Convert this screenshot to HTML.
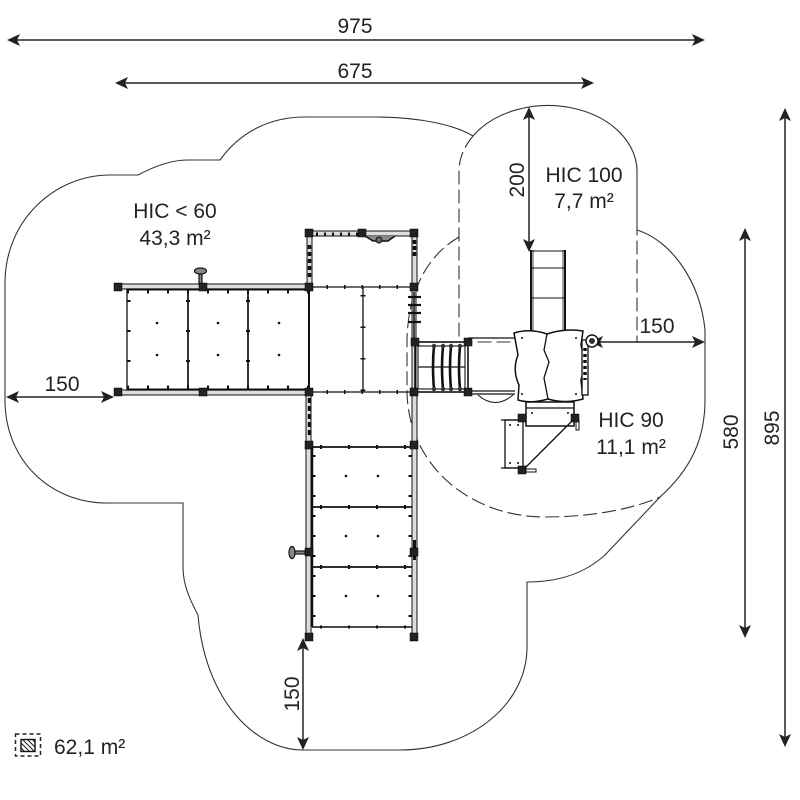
<!DOCTYPE html>
<html>
<head>
<meta charset="utf-8">
<style>
html,body{margin:0;padding:0;background:#fff;}
svg{display:block;}
text{font-family:"Liberation Sans",sans-serif;font-size:21px;fill:#222;}
</style>
</head>
<body>
<svg width="800" height="800" viewBox="0 0 800 800" xmlns="http://www.w3.org/2000/svg">
<defs>
<pattern id="hatch" width="3.5" height="3.5" patternUnits="userSpaceOnUse" patternTransform="rotate(-45)">
<rect width="3.5" height="3.5" fill="#fff"/>
<line x1="0" y1="0" x2="0" y2="3.5" stroke="#111" stroke-width="2"/>
</pattern>
</defs>

<!-- Outer boundary -->
<path d="M 110 175 L 138 175 C 155 166, 172 160, 187 160 L 220 160 C 240 132, 270 117, 305 117 L 375 117 C 420 117, 455 125, 473 136 A 89 66 0 0 1 637 173 L 637 230 C 670 240, 700 280, 705 330 L 705 400 C 705 440, 690 470, 660 497 L 605 555 C 585 573, 560 582, 527 582 L 527 647 C 527 705, 470 750, 400 750 L 303 750 C 255 750, 205 700, 198 615 C 190 600, 183 585, 183 567 L 183 503 L 107 503 C 50 503, 5 460, 5 400 L 5 283 C 5 220, 55 175, 110 175 Z" fill="none" stroke="#333" stroke-width="1.1"/>

<!-- HIC100 dashed parts -->
<path d="M 473 136 A 89 66 0 0 0 459 173 L 459 342 L 637 342 L 637 230" fill="none" stroke="#333" stroke-width="1.1" stroke-dasharray="14 5"/>
<!-- HIC90 dashed -->
<path d="M 459 237 C 428 255, 408 290, 407 340 L 407 390 C 407 465, 470 517, 545 517 C 595 517, 635 508, 660 497" fill="none" stroke="#333" stroke-width="1.1" stroke-dasharray="14 5"/>

<!-- Dimension lines -->
<g stroke="#222" stroke-width="1.5" fill="none">
<line x1="10" y1="40" x2="700" y2="40"/>
<line x1="118" y1="83" x2="590" y2="83"/>
<line x1="785" y1="112" x2="785" y2="743"/>
<line x1="745" y1="232" x2="745" y2="634"/>
<line x1="529" y1="110" x2="529" y2="248"/>
<line x1="594" y1="342" x2="701" y2="342"/>
<line x1="9" y1="397" x2="111" y2="397"/>
<line x1="303" y1="641" x2="303" y2="747"/>
</g>
<g fill="#222">
<polygon points="7,40 20,34 17,40 20,46"/>
<polygon points="705,40 692,34 695,40 692,46"/>
<polygon points="115,83 128,77 125,83 128,89"/>
<polygon points="594,83 581,77 584,83 581,89"/>
<polygon points="785,108 779,121 785,118 791,121"/>
<polygon points="785,747 779,734 785,737 791,734"/>
<polygon points="745,228 739,241 745,238 751,241"/>
<polygon points="745,638 739,625 745,628 751,625"/>
<polygon points="529,107 523,120 529,117 535,120"/>
<polygon points="529,252 523,239 529,242 535,239"/>
<polygon points="590,342 603,336 600,342 603,348"/>
<polygon points="705,342 692,336 695,342 692,348"/>
<polygon points="6,397 19,391 16,397 19,403"/>
<polygon points="114,397 101,391 104,397 101,403"/>
<polygon points="303,638 297,651 303,648 309,651"/>
<polygon points="303,750 297,737 303,740 309,737"/>
</g>

<!-- Labels -->
<text x="355" y="33" text-anchor="middle">975</text>
<text x="355" y="78" text-anchor="middle">675</text>
<text x="175" y="218" text-anchor="middle">HIC &lt; 60</text>
<text x="175" y="245" text-anchor="middle">43,3 m²</text>
<text x="584" y="182" text-anchor="middle">HIC 100</text>
<text x="584" y="208" text-anchor="middle">7,7 m²</text>
<text x="631" y="427" text-anchor="middle">HIC 90</text>
<text x="631" y="454" text-anchor="middle">11,1 m²</text>
<text x="657" y="333" text-anchor="middle">150</text>
<text x="62" y="391" text-anchor="middle">150</text>
<text transform="translate(524,180) rotate(-90)" text-anchor="middle">200</text>
<text transform="translate(738,432) rotate(-90)" text-anchor="middle">580</text>
<text transform="translate(779,428) rotate(-90)" text-anchor="middle">895</text>
<text transform="translate(299,694) rotate(-90)" text-anchor="middle">150</text>

<!-- Legend -->
<rect x="15.5" y="734" width="25" height="22" fill="none" stroke="#222" stroke-width="1.5" stroke-dasharray="4 3"/>
<rect x="21" y="739.5" width="14" height="12" fill="url(#hatch)" stroke="#111" stroke-width="1.4"/>
<text x="54" y="754">62,1 m²</text>

<!-- ===== Structure ===== -->
<g stroke="#111" fill="none">
<!-- left deck rails -->
<rect x="118" y="284" width="191" height="5" fill="#ddd" stroke-width="1"/>
<rect x="118" y="390" width="191" height="5" fill="#ddd" stroke-width="1"/>
<line x1="127" y1="289.5" x2="309" y2="289.5" stroke-width="2"/>
<line x1="127" y1="389.5" x2="309" y2="389.5" stroke-width="2"/>
<rect x="127" y="289" width="182" height="101" stroke-width="1.3"/>
<line x1="188" y1="289" x2="188" y2="390" stroke-width="1.7"/>
<line x1="248" y1="289" x2="248" y2="390" stroke-width="1.7"/>
<!-- ticks -->
<line x1="127" y1="292" x2="309" y2="292" stroke-width="3" stroke-dasharray="2 18"/>
<line x1="127" y1="387" x2="309" y2="387" stroke-width="3" stroke-dasharray="2 18"/>
<line x1="188" y1="300" x2="188" y2="390" stroke-width="4" stroke-dasharray="2 28"/>
<line x1="248" y1="300" x2="248" y2="390" stroke-width="4" stroke-dasharray="2 28"/>
<line x1="129" y1="300" x2="129" y2="390" stroke-width="3" stroke-dasharray="2 28"/>

<!-- center section -->
<line x1="309" y1="287" x2="414" y2="287" stroke-width="1.2"/>
<line x1="309" y1="392" x2="414" y2="392" stroke-width="1.2"/>
<line x1="309" y1="287" x2="414" y2="287" stroke-width="4" stroke-dasharray="1.5 16"/>
<line x1="309" y1="392" x2="414" y2="392" stroke-width="4" stroke-dasharray="1.5 16"/>
<line x1="363" y1="287" x2="363" y2="392" stroke-width="1.3"/>
<line x1="363" y1="295" x2="363" y2="392" stroke-width="5" stroke-dasharray="1.5 30"/>
<line x1="309" y1="287" x2="309" y2="392" stroke-width="2"/>
<rect x="412" y="287" width="4" height="105" fill="#ddd" stroke-width="1"/>

<!-- tower -->
<rect x="309" y="231" width="105" height="5" fill="#ddd" stroke-width="1"/>
<rect x="307" y="233" width="5" height="54" fill="#ddd" stroke-width="1"/>
<rect x="412" y="233" width="5" height="54" fill="#ddd" stroke-width="1"/>
<line x1="309.5" y1="245" x2="309.5" y2="280" stroke-width="3.5" stroke-dasharray="4 3"/>
<line x1="414.5" y1="240" x2="414.5" y2="258" stroke-width="3.5" stroke-dasharray="4 2"/>
<line x1="316" y1="234" x2="360" y2="234" stroke-width="3" stroke-dasharray="2 6"/>
<path d="M 365 236 L 373 241 L 388 241 L 395 236" fill="#888" stroke-width="1.5"/>
<circle cx="379" cy="240" r="3" fill="#666" stroke-width="1"/>

<!-- vertical bridge -->
<rect x="306" y="392" width="5" height="245" fill="#ddd" stroke-width="1"/>
<rect x="412" y="392" width="5" height="245" fill="#ddd" stroke-width="1"/>
<line x1="312" y1="447" x2="312" y2="627" stroke-width="2.5"/>
<line x1="309.5" y1="398" x2="309.5" y2="438" stroke-width="3.5" stroke-dasharray="5 3"/>
<line x1="414.5" y1="540" x2="414.5" y2="560" stroke-width="3"/>
<line x1="312" y1="447" x2="412" y2="447" stroke-width="1.7"/>
<line x1="312" y1="507" x2="412" y2="507" stroke-width="1.7"/>
<line x1="312" y1="567" x2="412" y2="567" stroke-width="1.7"/>
<line x1="312" y1="627" x2="412" y2="627" stroke-width="1.4"/>
<line x1="320" y1="447" x2="412" y2="447" stroke-width="4" stroke-dasharray="2 26"/>
<line x1="320" y1="507" x2="412" y2="507" stroke-width="4" stroke-dasharray="2 26"/>
<line x1="320" y1="567" x2="412" y2="567" stroke-width="4" stroke-dasharray="2 26"/>
<line x1="320" y1="627" x2="412" y2="627" stroke-width="3" stroke-dasharray="2 26"/>
<line x1="314" y1="455" x2="314" y2="627" stroke-width="3" stroke-dasharray="2 18"/>
<line x1="410" y1="455" x2="410" y2="627" stroke-width="3" stroke-dasharray="2 18"/>

<!-- ladder rungs -->
<g stroke-width="2.2">
<line x1="408" y1="297" x2="421" y2="297"/>
<line x1="408" y1="305" x2="421" y2="305"/>
<line x1="408" y1="313" x2="421" y2="313"/>
<line x1="408" y1="322" x2="421" y2="322"/>
</g>
<line x1="414" y1="292" x2="414" y2="338" stroke-width="1.5"/>

<!-- net section -->
<rect x="415" y="342" width="53" height="50" stroke-width="1.6"/>
<rect x="418" y="346" width="47" height="43" stroke-width="1.1"/>
<line x1="418" y1="367" x2="465" y2="367" stroke-width="1.3"/>
<g stroke-width="2.6">
<path d="M 434 346 Q 432 367 434 389"/>
<path d="M 443 346 Q 441 367 443 389"/>
<path d="M 451 346 Q 449 367 451 389"/>
<path d="M 460 346 Q 458 367 460 389"/>
</g>
<g fill="#333" stroke="none">
<circle cx="434" cy="346" r="2.2"/><circle cx="443" cy="346" r="2.2"/><circle cx="451" cy="346" r="2.2"/><circle cx="460" cy="346" r="2.2"/>
<circle cx="434" cy="389" r="2.2"/><circle cx="443" cy="389" r="2.2"/><circle cx="451" cy="389" r="2.2"/><circle cx="460" cy="389" r="2.2"/>
</g>

<!-- bridge to slide -->
<line x1="468" y1="338" x2="515" y2="338" stroke-width="1.3"/>
<line x1="468" y1="391" x2="515" y2="391" stroke-width="1.3"/>
<line x1="468" y1="394" x2="515" y2="394" stroke-width="1.3"/>
<path d="M 478 395 Q 495 410 513 395" stroke-width="1"/>

<!-- slide -->
<line x1="531" y1="250" x2="531" y2="331" stroke-width="2"/>
<line x1="533" y1="250" x2="533" y2="331" stroke-width="0.8"/>
<line x1="565" y1="250" x2="565" y2="331" stroke-width="2"/>
<line x1="563" y1="250" x2="563" y2="331" stroke-width="0.8"/>
<line x1="531" y1="251" x2="565" y2="251" stroke-width="1"/>
<line x1="531" y1="268" x2="565" y2="268" stroke-width="1"/>
<line x1="531" y1="298" x2="565" y2="298" stroke-width="1"/>

<!-- slide platform -->
<path d="M 514 333 Q 530 328 547 334 Q 565 328 583 331 L 581 345 Q 586 365 581 380 L 583 399 Q 565 404 548 399 Q 531 404 518 400 L 519 385 Q 512 370 518 355 Z" fill="#fff" stroke-width="1.5"/>
<path d="M 547 334 L 544 350 L 549 362 L 544 378 L 548 399" stroke-width="1.3"/>
<!-- side column -->
<rect x="582" y="340" width="6" height="55" fill="#fff" stroke-width="1.3"/>
<line x1="585" y1="348" x2="585" y2="380" stroke-width="3.5" stroke-dasharray="3 3"/>
<circle cx="592" cy="341" r="6" fill="#fff" stroke-width="1.4"/>
<circle cx="592" cy="341" r="2.5" fill="#333" stroke-width="0.8"/>

<!-- bench -->
<rect x="526" y="402" width="48" height="24" fill="#fff" stroke-width="1.5"/>
<line x1="526" y1="408" x2="574" y2="408" stroke-width="1.3"/>
<rect x="505" y="420" width="18" height="48" stroke-width="1.3"/>
<line x1="501" y1="420" x2="523" y2="420" stroke-width="1.3"/>
<line x1="501" y1="468" x2="523" y2="468" stroke-width="1.3"/>
<line x1="575" y1="418" x2="524" y2="469" stroke-width="1.3"/>
<rect x="576" y="420" width="3" height="10" stroke-width="1"/>
<rect x="526" y="469" width="10" height="3" stroke-width="1"/>
</g>

<!-- dots -->
<g fill="#111">
<circle cx="157" cy="323" r="1.3"/><circle cx="157" cy="355" r="1.3"/>
<circle cx="218" cy="323" r="1.3"/><circle cx="218" cy="355" r="1.3"/>
<circle cx="279" cy="323" r="1.3"/><circle cx="279" cy="355" r="1.3"/>
<circle cx="346" cy="476" r="1.3"/><circle cx="378" cy="476" r="1.3"/>
<circle cx="346" cy="536" r="1.3"/><circle cx="378" cy="536" r="1.3"/>
<circle cx="346" cy="596" r="1.3"/><circle cx="378" cy="596" r="1.3"/>
<circle cx="522" cy="338" r="1"/><circle cx="576" cy="338" r="1"/>
<circle cx="522" cy="394" r="1"/><circle cx="576" cy="394" r="1"/>
<circle cx="532" cy="413" r="1"/><circle cx="568" cy="413" r="1"/>
<circle cx="510" cy="425" r="1"/><circle cx="518" cy="425" r="1"/>
<circle cx="510" cy="463" r="1"/><circle cx="518" cy="463" r="1"/>
</g>

<!-- steering wheels -->
<g stroke="#111" stroke-width="1.2" fill="#888">
<rect x="199" y="273" width="3" height="11"/>
<ellipse cx="200.5" cy="271" rx="6" ry="3"/>
<rect x="292" y="551" width="13" height="3"/>
<ellipse cx="292" cy="552.5" rx="3" ry="6"/>
</g>

<!-- posts -->
<g fill="#222" stroke="#000" stroke-width="0.5">
<rect x="114" y="283" width="8" height="8"/>
<rect x="199" y="283" width="8" height="8"/>
<rect x="305" y="283" width="8" height="8"/>
<rect x="410" y="283" width="8" height="8"/>
<rect x="114" y="388" width="8" height="8"/>
<rect x="199" y="388" width="8" height="8"/>
<rect x="305" y="388" width="8" height="8"/>
<rect x="410" y="388" width="8" height="8"/>
<rect x="305" y="229" width="8" height="8"/>
<rect x="358" y="229" width="8" height="8"/>
<rect x="410" y="229" width="8" height="8"/>
<rect x="411" y="338" width="8" height="8"/>
<rect x="464" y="338" width="8" height="8"/>
<rect x="464" y="388" width="8" height="8"/>
<rect x="305" y="441" width="8" height="8"/>
<rect x="410" y="441" width="8" height="8"/>
<rect x="305" y="548" width="8" height="8"/>
<rect x="410" y="548" width="8" height="8"/>
<rect x="305" y="633" width="8" height="8"/>
<rect x="410" y="633" width="8" height="8"/>
<rect x="518" y="414" width="8" height="8"/>
<rect x="571" y="414" width="8" height="8"/>
<rect x="518" y="466" width="8" height="8"/>
</g>
</svg>
</body>
</html>
